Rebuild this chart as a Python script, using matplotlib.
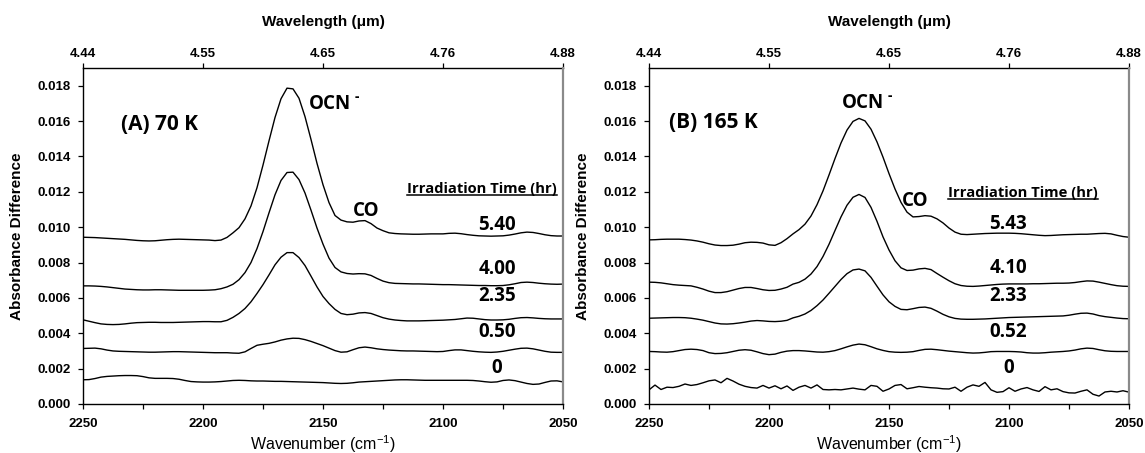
import matplotlib
matplotlib.use("Agg")
import matplotlib.pyplot as plt
import numpy as np
from matplotlib.lines import Line2D
from matplotlib.transforms import IdentityTransform
from matplotlib.ticker import FormatStrFormatter, MultipleLocator

plt.rcParams['font.family'] = ['Liberation Sans', 'DejaVu Sans']
plt.rcParams['mathtext.default'] = 'regular'

# wavenumber grid (cm-1), 2.5 cm-1 spacing
wavenumber = np.linspace(2250, 2050, 81)

# absorbance difference spectra, in units of 1e-3
# 70 K
a70_0 = [1.37, 1.38, 1.44, 1.52, 1.56, 1.58, 1.60, 1.61, 1.61, 1.60,
         1.55, 1.48, 1.45, 1.45, 1.45, 1.44, 1.40, 1.33, 1.27, 1.25,
         1.24, 1.24, 1.25, 1.27, 1.30, 1.33, 1.34, 1.33, 1.31, 1.30,
         1.30, 1.29, 1.28, 1.28, 1.27, 1.26, 1.25, 1.24, 1.23, 1.22,
         1.21, 1.19, 1.17, 1.16, 1.17, 1.20, 1.24, 1.26, 1.28, 1.30,
         1.32, 1.34, 1.36, 1.37, 1.37, 1.36, 1.35, 1.34, 1.34, 1.34,
         1.34, 1.34, 1.34, 1.34, 1.34, 1.33, 1.30, 1.26, 1.23, 1.25,
         1.33, 1.36, 1.32, 1.24, 1.16, 1.11, 1.13, 1.22, 1.30, 1.31,
         1.25]
a70_050 = [3.14, 3.15, 3.16, 3.12, 3.05, 3.00, 2.98, 2.97, 2.96, 2.95,
           2.94, 2.93, 2.93, 2.94, 2.95, 2.96, 2.96, 2.95, 2.94, 2.93,
           2.92, 2.91, 2.90, 2.90, 2.90, 2.88, 2.87, 2.95, 3.14, 3.32,
           3.38, 3.43, 3.51, 3.61, 3.68, 3.72, 3.71, 3.64, 3.54, 3.42,
           3.30, 3.16, 3.02, 2.93, 2.95, 3.07, 3.18, 3.22, 3.18, 3.12,
           3.08, 3.05, 3.03, 3.01, 3.00, 3.00, 2.99, 2.98, 2.97, 2.96,
           2.97, 3.02, 3.06, 3.06, 3.02, 2.98, 2.95, 2.93, 2.92, 2.94,
           2.98, 3.04, 3.10, 3.15, 3.16, 3.12, 3.05, 2.98, 2.93, 2.92,
           2.92]
a70_235 = [4.76, 4.68, 4.60, 4.53, 4.50, 4.49, 4.50, 4.53, 4.57, 4.60,
           4.61, 4.62, 4.62, 4.61, 4.61, 4.61, 4.62, 4.63, 4.64, 4.65,
           4.66, 4.66, 4.65, 4.65, 4.73, 4.90, 5.12, 5.40, 5.78, 6.25,
           6.75, 7.30, 7.87, 8.30, 8.56, 8.56, 8.28, 7.83, 7.23, 6.62,
           6.08, 5.68, 5.35, 5.12, 5.05, 5.08, 5.15, 5.17, 5.12, 5.00,
           4.88, 4.80, 4.75, 4.72, 4.70, 4.70, 4.70, 4.71, 4.72, 4.73,
           4.74, 4.76, 4.78, 4.82, 4.86, 4.85, 4.81, 4.77, 4.75, 4.75,
           4.76, 4.79, 4.84, 4.88, 4.89, 4.87, 4.84, 4.82, 4.81, 4.81,
           4.81]
a70_400 = [6.68, 6.68, 6.67, 6.65, 6.62, 6.58, 6.54, 6.50, 6.48, 6.46,
           6.45, 6.45, 6.46, 6.46, 6.45, 6.44, 6.43, 6.43, 6.43, 6.43,
           6.43, 6.44, 6.46, 6.52, 6.62, 6.77, 7.03, 7.43, 8.00, 8.79,
           9.75, 10.81, 11.83, 12.64, 13.09, 13.11, 12.69, 11.93, 10.96, 9.95,
           9.04, 8.25, 7.72, 7.47, 7.38, 7.35, 7.37, 7.36, 7.27, 7.10,
           6.95, 6.86, 6.82, 6.81, 6.80, 6.79, 6.79, 6.78, 6.77, 6.76,
           6.75, 6.75, 6.74, 6.73, 6.72, 6.71, 6.70, 6.70, 6.69, 6.69,
           6.70, 6.74, 6.80, 6.87, 6.89, 6.87, 6.83, 6.80, 6.78, 6.77,
           6.78]
a70_540 = [9.43, 9.42, 9.41, 9.39, 9.37, 9.35, 9.33, 9.31, 9.28, 9.25,
           9.23, 9.22, 9.23, 9.26, 9.29, 9.31, 9.32, 9.31, 9.30, 9.29,
           9.28, 9.27, 9.24, 9.27, 9.42, 9.68, 9.97, 10.47, 11.20, 12.23,
           13.51, 14.88, 16.20, 17.26, 17.86, 17.82, 17.29, 16.25, 14.96, 13.61,
           12.40, 11.39, 10.66, 10.40, 10.30, 10.28, 10.35, 10.37, 10.20, 9.95,
           9.80, 9.68, 9.64, 9.62, 9.61, 9.60, 9.60, 9.61, 9.62, 9.62,
           9.62, 9.65, 9.66, 9.63, 9.58, 9.54, 9.51, 9.50, 9.49, 9.50,
           9.51, 9.55, 9.61, 9.68, 9.72, 9.70, 9.64, 9.57, 9.52, 9.50,
           9.50]

# 165 K
a165_0 = [0.80, 1.07, 0.82, 0.95, 0.93, 1.00, 1.13, 1.05, 1.10, 1.20,
          1.31, 1.36, 1.20, 1.45, 1.30, 1.12, 1.00, 0.93, 0.90, 1.05,
          0.90, 1.03, 0.86, 1.02, 0.77, 0.95, 1.05, 0.90, 1.08, 0.82,
          0.80, 0.82, 0.80, 0.85, 0.90, 0.84, 0.80, 1.05, 1.00, 0.72,
          0.85, 1.05, 1.10, 0.86, 0.92, 0.99, 0.95, 0.92, 0.90, 0.86,
          0.85, 0.95, 0.72, 0.95, 1.08, 1.00, 1.22, 0.80, 0.66, 0.70,
          0.92, 0.72, 0.85, 0.93, 0.80, 0.71, 0.98, 0.80, 0.86, 0.70,
          0.63, 0.62, 0.72, 0.80, 0.55, 0.45, 0.68, 0.72, 0.68, 0.75,
          0.67]
a165_052 = [2.97, 2.96, 2.94, 2.93, 2.96, 3.02, 3.08, 3.10, 3.08, 3.02,
            2.90, 2.85, 2.86, 2.90, 2.97, 3.04, 3.07, 3.04, 2.95, 2.85,
            2.79, 2.82, 2.92, 2.99, 3.02, 3.02, 3.00, 2.97, 2.94, 2.93,
            2.96, 3.02, 3.12, 3.23, 3.33, 3.39, 3.35, 3.24, 3.12, 3.03,
            2.96, 2.93, 2.92, 2.93, 2.96, 3.03, 3.09, 3.10, 3.07, 3.03,
            2.99, 2.96, 2.93, 2.90, 2.88, 2.89, 2.92, 2.96, 2.97, 2.97,
            2.97, 2.96, 2.94, 2.90, 2.88, 2.88, 2.90, 2.93, 2.95, 2.97,
            3.00, 3.05, 3.12, 3.16, 3.14, 3.07, 3.01, 2.98, 2.97, 2.97,
            2.97]
a165_233 = [4.85, 4.86, 4.87, 4.88, 4.89, 4.89, 4.88, 4.85, 4.80, 4.74,
            4.66, 4.58, 4.53, 4.52, 4.54, 4.58, 4.63, 4.69, 4.72, 4.70,
            4.67, 4.66, 4.68, 4.73, 4.87, 4.96, 5.09, 5.29, 5.56, 5.88,
            6.26, 6.65, 7.04, 7.37, 7.58, 7.63, 7.53, 7.16, 6.66, 6.17,
            5.78, 5.52, 5.35, 5.33, 5.39, 5.46, 5.48, 5.41, 5.25, 5.07,
            4.93, 4.84, 4.80, 4.79, 4.79, 4.80, 4.81, 4.83, 4.85, 4.87,
            4.89, 4.90, 4.91, 4.92, 4.93, 4.94, 4.95, 4.96, 4.97, 4.98,
            5.02, 5.08, 5.13, 5.14, 5.09, 5.00, 4.94, 4.90, 4.86, 4.83,
            4.82]
a165_410 = [6.89, 6.88, 6.85, 6.80, 6.75, 6.72, 6.70, 6.68, 6.60, 6.50,
            6.38, 6.30, 6.30, 6.35, 6.44, 6.53, 6.59, 6.59, 6.53, 6.46,
            6.42, 6.43, 6.50, 6.60, 6.78, 6.88, 7.06, 7.35, 7.77, 8.34,
            9.03, 9.81, 10.58, 11.24, 11.69, 11.85, 11.68, 11.12, 10.33, 9.45,
            8.71, 8.10, 7.70, 7.55, 7.57, 7.64, 7.67, 7.60, 7.38, 7.17,
            6.97, 6.80, 6.70, 6.66, 6.65, 6.67, 6.70, 6.73, 6.76, 6.78,
            6.79, 6.79, 6.79, 6.79, 6.80, 6.80, 6.81, 6.82, 6.83, 6.83,
            6.84, 6.87, 6.92, 6.96, 6.95, 6.89, 6.82, 6.75, 6.69, 6.66,
            6.65]
a165_543 = [9.28, 9.29, 9.31, 9.32, 9.32, 9.32, 9.30, 9.27, 9.22, 9.15,
            9.06, 8.99, 8.96, 8.96, 8.98, 9.04, 9.12, 9.15, 9.14, 9.10,
            9.00, 8.97, 9.12, 9.35, 9.62, 9.86, 10.17, 10.63, 11.27, 12.05,
            12.95, 13.88, 14.76, 15.49, 15.98, 16.15, 16.01, 15.54, 14.82, 13.96,
            13.03, 12.16, 11.40, 10.85, 10.58, 10.60, 10.65, 10.62, 10.47, 10.24,
            9.95, 9.72, 9.60, 9.58, 9.60, 9.62, 9.64, 9.65, 9.66, 9.66,
            9.66, 9.65, 9.63, 9.60, 9.57, 9.54, 9.52, 9.53, 9.55, 9.57,
            9.58, 9.59, 9.60, 9.60, 9.62, 9.64, 9.65, 9.62, 9.54, 9.47,
            9.43]

times_70 = ["0", "0.50", "2.35", "4.00", "5.40"]
times_165 = ["0", "0.52", "2.33", "4.10", "5.43"]

# top axis: wavelength (um) at the wavenumber ticks
wl_pos = [2250, 2200, 2150, 2100, 2050]
wl_labels = ["4.44", "4.55", "4.65", "4.76", "4.88"]

W, H = 1145, 453
fig = plt.figure(figsize=(W / 100, H / 100), dpi=100)
ax1 = fig.add_axes([83 / W, 49 / H, 480 / W, 336 / H])
ax2 = fig.add_axes([649 / W, 49 / H, 480 / W, 336 / H])

NOTE = dict(family=['Open Sans', 'DejaVu Sans'], fontweight='bold', color='black')
TICK_FS = 9.5


def draw_panel(ax, spectra, times, tag, tag_x, tag_y, ocn_x, ocn_y,
               co_x, co_y, head_x, head_y, time_x, time_ys):
    for s in spectra:
        ax.plot(wavenumber, np.asarray(s) * 1e-3, color='black', lw=1.0)

    ax.set_xlim(2250, 2050)
    ax.set_ylim(0, 0.019)
    ax.set_xticks([2250, 2200, 2150, 2100, 2050])
    ax.xaxis.set_minor_locator(MultipleLocator(25))
    ax.set_yticks(np.arange(0, 0.0181, 0.002))
    ax.yaxis.set_major_formatter(FormatStrFormatter('%.3f'))
    ax.tick_params(axis='both', which='both', direction='out', length=3.8, width=0.9,
                   top=False, right=False)
    ax.tick_params(axis='x', which='major', pad=6)
    ax.tick_params(axis='y', which='major', pad=5)
    for lab in ax.get_xticklabels() + ax.get_yticklabels():
        lab.set_fontweight('bold')
        lab.set_fontsize(TICK_FS)

    for side in ('left', 'bottom'):
        ax.spines[side].set_linewidth(1.0)
    ax.spines['top'].set_visible(False)
    ax.spines['right'].set_color('#8a8a8a')
    ax.spines['right'].set_linewidth(1.6)

    top = ax.secondary_xaxis('top')
    top.set_xticks(wl_pos, labels=wl_labels)
    top.tick_params(direction='out', length=3.8, width=0.9, pad=2)
    top.spines['top'].set_linewidth(1.0)
    for lab in top.get_xticklabels():
        lab.set_fontweight('bold')
        lab.set_fontsize(TICK_FS)

    ax.text(tag_x, tag_y, tag, fontsize=15, ha='left', va='baseline', **NOTE)
    ocn = ax.text(ocn_x, ocn_y, "OCN", fontsize=13.5, ha='left', va='baseline', **NOTE)
    ax.text(co_x, co_y, "CO", fontsize=13.5, ha='left', va='baseline', **NOTE)
    head = ax.text(head_x, head_y, "Irradiation Time (hr)", fontsize=10.6,
                   ha='left', va='baseline', **NOTE)
    for t, y in zip(times, time_ys):
        ax.text(time_x, y, t, fontsize=13.5, ha='center', va='baseline', **NOTE)
    return ocn, head


ocn1, head1 = draw_panel(ax1, [a70_0, a70_050, a70_235, a70_400, a70_540], times_70,
                         "(A) 70 K", 2234, 0.0155, 2155.8, 0.01668,
                         2137.5, 0.01064, 2115.1, 0.01195,
                         2077.5, [0.00175, 0.00379, 0.00580, 0.00736, 0.00985])
ocn2, head2 = draw_panel(ax2, [a165_0, a165_052, a165_233, a165_410, a165_543], times_165,
                         "(B) 165 K", 2241.7, 0.01559, 2169.8, 0.01672,
                         2144.8, 0.0112, 2125.5, 0.01173,
                         2100.3, [0.00178, 0.00380, 0.00582, 0.00740, 0.00989])

# axis titles
for x0 in (83, 649):
    cx = (x0 + 240) / W
    fig.text(cx, 1 - 22 / H, "Wavelength (\u03bcm)", ha='center', va='center',
             fontsize=11, fontweight='bold')
    fig.text(cx, 1 - 444 / H, "Wavenumber (cm$^{-1}$)", ha='center', va='center',
             fontsize=11.5)
    fig.text((x0 - 66) / W, 1 - 236 / H, "Absorbance Difference", ha='center',
             va='center', rotation=90, fontsize=11, fontweight='bold')

# charge sign after OCN, and underline under the column headers
fig.canvas.draw()
renderer = fig.canvas.get_renderer()
for ax, ocn, head in ((ax1, ocn1, head1), (ax2, ocn2, head2)):
    ob = ocn.get_window_extent(renderer)
    base = ax.transData.transform(ocn.get_position())[1]
    fig.text(ob.x1 + 6, base + 12, "-", transform=IdentityTransform(),
             ha='center', va='center', fontsize=10, **NOTE)

    bb = head.get_window_extent(renderer)
    y = ax.transData.transform(head.get_position())[1] - 2.0
    fig.add_artist(Line2D([bb.x0, bb.x1], [y, y], transform=IdentityTransform(),
                          color='black', lw=1.1))

fig.savefig('out.png', dpi=100)
